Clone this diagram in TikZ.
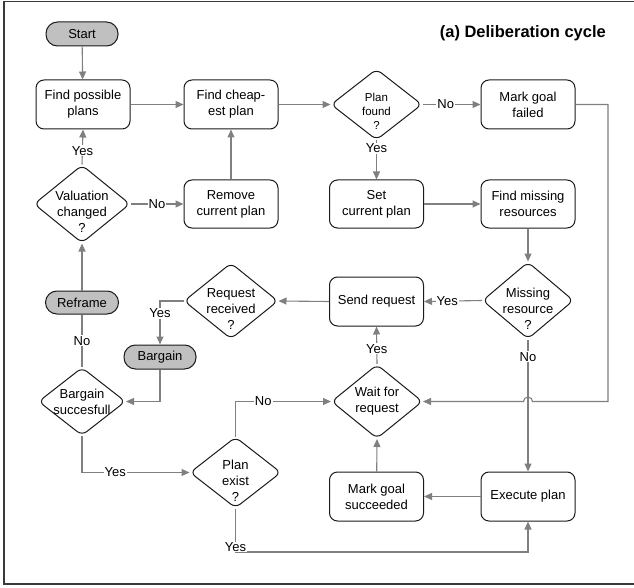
\documentclass[tikz,border=0pt]{standalone}
\usepackage{fontspec}
\setmainfont{Liberation Sans}
\usetikzlibrary{shapes.geometric,arrows.meta}
\definecolor{conn}{HTML}{808080}
\definecolor{termfill}{HTML}{C0C0C0}
\definecolor{edgec}{HTML}{1A1A1A}
\definecolor{framec}{HTML}{3A3A3A}
\begin{document}
\begin{tikzpicture}[x=1pt,y=-1pt,
  every node/.style={font=\fontsize{13}{16}\selectfont, inner sep=0pt},
  box/.style={draw=edgec, line width=1pt, rounded corners=8pt, minimum width=94pt, minimum height=49pt, align=center, fill=white},
  termbox/.style={draw=edgec, line width=1pt, rounded corners=11.5pt, minimum width=72pt, minimum height=24pt, fill=termfill},
  dia/.style={draw=edgec, line width=1pt, diamond, rounded corners=6pt, fill=white, inner sep=0pt},
  dtext/.style={align=center},
  conn/.style={draw=conn, line width=1.1pt, -{Triangle[length=8pt,width=7pt]}},
  plainc/.style={draw=conn, line width=1.1pt},
  lbl/.style={fill=white, inner sep=1pt, text=black}
]
\useasboundingbox (0,0) rectangle (634,588);
\draw[framec, line width=1.3pt] (4,1.5) rectangle (650,584);

\node[font=\bfseries\fontsize{16.5}{20}\selectfont, anchor=base east] (title) at (606,38) {(a) Deliberation cycle};

% nodes
\node[termbox] (start) at (82,34) {Start};
\node[box] (fpp) at (83,104.5) {Find possible\\plans};
\node[box] (fcp) at (231,104.5) {Find cheap-\\est plan};
\node[dia, minimum width=91pt, minimum height=71pt] (pf) at (376.5,104.5) {};
\node[dtext, font=\fontsize{11.5}{14}\selectfont, yshift=-7pt] (pft) at (pf) {Plan\\found\\?};
\node[box] (mgf) at (528,104.5) {Mark goal\\failed};

\node[dia, minimum width=96pt, minimum height=78pt] (vc) at (82,204) {};
\node[dtext, yshift=-8pt] (vct) at (vc) {Valuation\\changed\\?};
\node[box, minimum height=48pt] (rcp) at (231,204) {Remove\\current plan};
\node[box, minimum height=48pt] (scp) at (376.5,204) {Set\\current plan};
\node[box, minimum height=48pt] (fmr) at (528,204) {Find missing\\resources};

\node[dia, minimum width=91pt, minimum height=77pt] (mr) at (528,300.5) {};
\node[dtext, yshift=-8pt] (mrt) at (mr) {Missing\\resource\\?};
\node[box] (sr) at (376.5,301.5) {Send request};
\node[dia, minimum width=94pt, minimum height=76pt] (rr) at (231,301) {};
\node[dtext, yshift=-8pt] (rrt) at (rr) {Request\\received\\?};
\node[termbox, minimum width=73pt, minimum height=23pt] (ref) at (82,302.5) {Reframe};
\node[termbox] (bg) at (160,357) {Bargain};

\node[dia, minimum width=87pt, minimum height=68pt] (bs) at (82,401.5) {};
\node[dtext] (bst) at (bs) {Bargain\\succesfull};
\node[dia, minimum width=91pt, minimum height=74pt] (wr) at (377,401.5) {};
\node[dtext] (wrt) at (wr) {Wait for\\request};
\node[dia, minimum width=91pt, minimum height=71pt] (pe) at (235.5,472.5) {};
\node[dtext, yshift=-8pt] (pet) at (pe) {Plan\\exist\\?};
\node[box] (msd) at (376.5,496.5) {Mark goal\\succeeded};
\node[box] (ex) at (528,496.5) {Execute plan};

\coordinate (yb) at (235.5,552);
\coordinate (rtop) at (608,104.5);
\coordinate (rbot) at (608,401.5);
\coordinate (hop) at (532.5,401.5);

% connectors
\draw[conn] (start) -- (fpp);
\draw[conn] (fpp) -- (fcp);
\draw[conn] (fcp) -- (pf.west);
\draw[conn] (pf.east) -- node[lbl,pos=0.4]{No} (mgf.west);
\draw[conn] (pf.south) -- node[lbl,pos=0.2]{Yes} (scp.north);
\draw[conn] (scp) -- (fmr);
\draw[conn] (fmr) -- (mr.north);
\draw[conn] (mr.west) -- node[lbl,pos=0.6]{Yes} (sr.east);
\draw[conn] (mr.south) -- node[lbl,pos=0.13]{No} (ex.north);
\draw[conn] (sr.west) -- (rr.east);
\draw[conn] (rr.west) -| node[lbl,pos=0.64]{Yes} (bg.north);
\draw[conn] (bg.south) |- (bs.east);
\draw[plainc] (bs.north) -- node[lbl,pos=0.5]{No} (ref.south);
\draw[conn] (ref.north) -- (vc.south);
\draw[conn] (vc.north) -- node[lbl,pos=0.39]{Yes} (fpp.south);
\draw[conn] (vc.east) -- node[lbl,pos=0.5]{No} (rcp.west);
\draw[conn] (rcp) -- (fcp);
\draw[conn] (bs.south) |- node[lbl,pos=0.655]{Yes} (pe.west);
\draw[conn] (pe.north) |- node[lbl,pos=0.645]{No} (wr.west);
\draw[conn] (pe.south) -- (yb) -| (ex.south);
\node[lbl, anchor=south, inner sep=0.5pt] (ybl) at (yb) {Yes};
\draw[conn] (ex) -- (msd);
\draw[conn] (msd) -- (wr.south);
\draw[conn] (wr.north) -- node[lbl,pos=0.41]{Yes} (sr.south);
\draw[conn] (mgf.east) -- (rtop) -- (rbot) -- (hop) arc[start angle=0,end angle=-180,radius=4.5] -- (wr.east);
\end{tikzpicture}
\end{document}
